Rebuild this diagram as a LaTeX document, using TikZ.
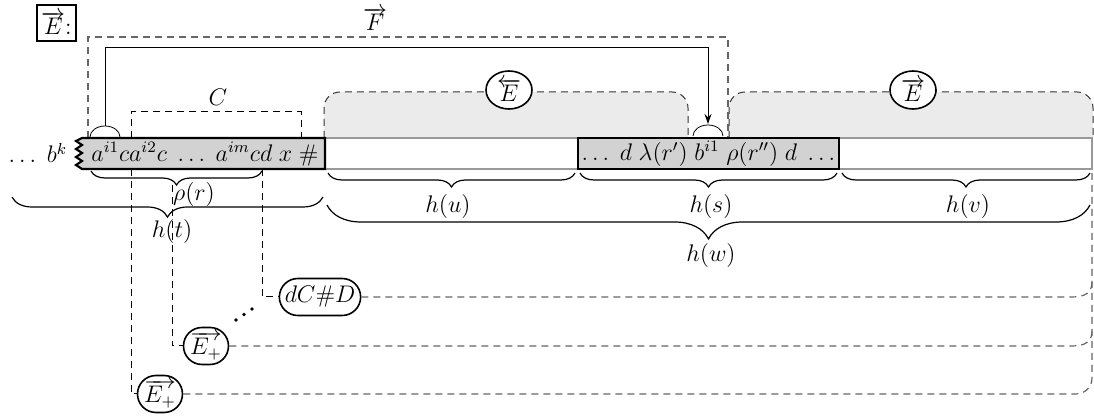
\documentclass[tikz,border=0pt]{standalone}
\usetikzlibrary{arrows.meta,decorations.pathreplacing,shapes.geometric,shapes.misc,calc}
\definecolor{boxgray}{HTML}{D2D2D2}
\definecolor{regiongray}{HTML}{EBEBEB}
\definecolor{linegray}{HTML}{666666}
\definecolor{rowgray}{HTML}{999999}
\begin{document}
\begin{tikzpicture}[x=0.5pt,y=-0.5pt, font=\fontsize{12}{14}\selectfont,
  dsh/.style={dash pattern=on 3.5pt off 2.5pt, line width=0.5pt},
  hdsh/.style={dsh, draw=linegray, line width=0.6pt},
  brc/.style={decorate, decoration={brace, amplitude=#1}, line width=0.6pt},
  oval/.style={draw, line width=0.8pt, fill=white, ellipse, inner sep=0pt, minimum width=23pt, minimum height=19pt},
  pill/.style={draw, line width=0.8pt, fill=white, rounded rectangle, inner sep=1pt, minimum height=18.5pt},
  regfill/.style={fill=regiongray, rounded corners=8pt},
  regline/.style={dsh, draw=black!80, rounded corners=8pt},
  boxed/.style={draw, line width=1.1pt, fill=boxgray}
]
\useasboundingbox (0,0) rectangle (1094,416);

% shaded regions
\path[regfill] (324,160) -- (324,92) -- (688,92) -- (688,160) -- cycle;
\path[regfill] (729,160) -- (729,92) -- (1093,92) -- (1093,160) -- cycle;

% tape row
\fill[white] (325,138) rectangle (1092,169);
\draw[rowgray, line width=0.8pt] (325,138) -- (1092,138) -- (1092,169) -- (325,169);

\draw[regline] (324,138) -- (324,92) -- (688,92) -- (688,138);
\draw[regline] (729,138) -- (729,92) -- (1093,92) -- (1093,138);

% F frame
\draw[hdsh] (88,138) -- (88,37) -- (728,37) -- (728,138);
\node[inner sep=0pt] (F) at (375,19) {$\overrightarrow{F}$};
\node[draw, line width=0.8pt, minimum width=19.5pt, minimum height=18pt, inner sep=0pt] (Etop) at (56.5,23) {$\overrightarrow{E}$:};

% C frame
\draw[dsh] (131,138) -- (131,112) -- (301,112) -- (301,138);
\node (C) at (218,97) {$C$};

% first box with zigzag
\draw[boxed] (325,138) -- (325,169) -- (82,169) -- (76,165) -- (82,161) -- (76,157) -- (82,153) -- (76,149) -- (82,145) -- (76,141) -- (82,138) -- cycle;
\node (w1) at (205,154) {$a^{i1}ca^{i2}c\;\ldots\;a^{im}cd\;x\;\#$};
\node (bk) at (38,153) {$\ldots\;b^k$};

% second box
\node[boxed, minimum width=130.5pt, minimum height=15.5pt, inner sep=0pt] (w2) at (708.5,153.5) {$\ldots\; d\;\lambda(r')\; b^{i1}\;\rho(r'')\; d\;\ldots$};

% caps and arrow
\coordinate (capL) at (105,126);
\coordinate (capR) at (708,124);
\draw (90,137) arc[start angle=180, end angle=0, x radius=7.5pt, y radius=5.5pt];
\draw (693,136) arc[start angle=180, end angle=0, x radius=7.5pt, y radius=5.5pt];
\draw[line width=0.5pt, -{Stealth[length=5pt, width=3.5pt]}] (capL) -- (105,48) -| (capR);

% region labels
\node[oval] (Eleft) at (509,90) {$\overleftarrow{E}$};
\node[oval] (Eright) at (913,90) {$\overrightarrow{E}$};

% braces
\draw[brc=7pt] (262,171) -- (91,171);
\node (rho) at (194,195) {$\rho(r)$};
\draw[brc=10pt] (323,197) -- (12,197);
\node (ht) at (172,232) {$h(t)$};
\draw[brc=7pt] (575,173) -- (328,173);
\node (hu) at (448,207) {$h(u)$};
\draw[brc=7pt] (837,173) -- (580,173);
\node (hs) at (711,207) {$h(s)$};
\draw[brc=7pt] (1090,173) -- (842,173);
\node (hv) at (968,207) {$h(v)$};
\draw[brc=17pt] (1090,205) -- (327,205);
\node (hw) at (711,256) {$h(w)$};

% lower nodes
\node[pill, minimum width=38pt] (dCD) at (320,297) {$dC\#D$};
\node[pill, minimum width=24.5pt] (Ep1) at (206,346) {$\overrightarrow{E_+}$};
\node[pill, minimum width=24.5pt] (Ep2) at (160,394) {$\overrightarrow{E_+}$};

\draw[dsh] (262,169) |- (dCD.west);
\draw[dsh] (172,185) |- (Ep1.west);
\draw[dsh] (131,169) |- (Ep2.west);

\draw[hdsh] (dCD.east) -- (1072,297) .. controls (1086,297) and (1092,292) .. (1092,282);
\draw[hdsh] (Ep1.east) -- (1072,346) .. controls (1086,346) and (1092,341) .. (1092,331);
\draw[hdsh, rounded corners=8pt] (Ep2.east) -- (1092,394) -- (1092,169);

\fill (236,320) circle[radius=0.9pt];
\fill (244,314.5) circle[radius=0.9pt];
\fill (252,309) circle[radius=0.9pt];
\end{tikzpicture}
\end{document}
